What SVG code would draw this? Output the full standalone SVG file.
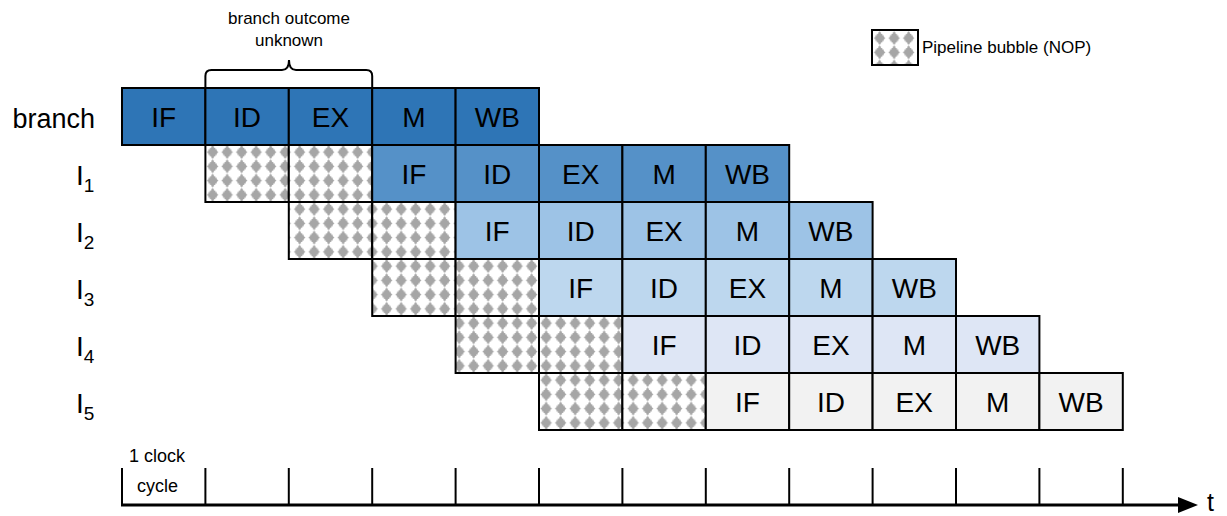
<svg xmlns="http://www.w3.org/2000/svg" width="1227" height="516" viewBox="0 0 1227 516">
<style>
text{font-family:"Liberation Sans",Arial,sans-serif;fill:#000}
.st{font-size:28px;text-anchor:middle}
.lbl{font-size:28px}
.c{stroke:#000;stroke-width:2}
.b0{fill:#2E75B6}.b1{fill:#5591C8}.b2{fill:#9DC3E6}.b3{fill:#BDD7EE}.b4{fill:#DEE6F5}.b5{fill:#F2F2F2}
.nop{fill:url(#bub)}
.tick{stroke:#000;stroke-width:2}
.small{font-size:18px}
</style>
<defs>
<pattern id="bub" patternUnits="userSpaceOnUse" x="205.4" y="145" width="14.5" height="14.25">
<rect width="14.5" height="14.25" fill="#fff"/>
<g transform="translate(7.25,7.1) scale(1.15) translate(-7.25,-7.1)">
<path d="M7.25,1.2 L8.4,2.4 L8.4,3.4 L9.6,3.4 L9.6,4.6 L10.8,4.6 L10.8,5.9 L12.3,7.1 L10.8,8.3 L10.8,9.6 L9.6,9.6 L9.6,10.8 L8.4,10.8 L8.4,11.8 L7.25,13 L6.1,11.8 L6.1,10.8 L4.9,10.8 L4.9,9.6 L3.7,9.6 L3.7,8.3 L2.2,7.1 L3.7,5.9 L3.7,4.6 L4.9,4.6 L4.9,3.4 L6.1,3.4 L6.1,2.4 Z" fill="#A6A6A6"/>
</g>
</pattern>
</defs>
<rect width="1227" height="516" fill="#fff"/>

<g id="brace">
<path d="M205.4,88 V76 Q205.4,70 211.4,70 H282 Q289,70 289,60 Q289,70 296,70 H366.2 Q372.2,70 372.2,76 V88" fill="none" stroke="#000" stroke-width="2"/>
<text x="289" y="24" font-size="17" text-anchor="middle">branch outcome</text>
<text x="289" y="46" font-size="17" text-anchor="middle">unknown</text>
</g>

<g id="legend">
<rect x="872" y="30" width="46" height="35" class="c nop"/>
<text x="922" y="53" font-size="17">Pipeline bubble (NOP)</text>
</g>

<g id="labels">
<text x="95" y="128" font-size="27" text-anchor="end">branch</text>
<text class="lbl" x="76" y="185">I<tspan font-size="19" dy="7">1</tspan></text>
<text class="lbl" x="76" y="242">I<tspan font-size="19" dy="7">2</tspan></text>
<text class="lbl" x="76" y="299">I<tspan font-size="19" dy="7">3</tspan></text>
<text class="lbl" x="76" y="356">I<tspan font-size="19" dy="7">4</tspan></text>
<text class="lbl" x="76" y="413">I<tspan font-size="19" dy="7">5</tspan></text>
</g>

<g id="branch-IF"><rect class="c b0" x="122" y="88" width="83.4" height="57"/><text class="st" x="163.7" y="126.5">IF</text></g>
<g id="branch-ID"><rect class="c b0" x="205.4" y="88" width="83.4" height="57"/><text class="st" x="247.1" y="126.5">ID</text></g>
<g id="branch-EX"><rect class="c b0" x="288.8" y="88" width="83.4" height="57"/><text class="st" x="330.5" y="126.5">EX</text></g>
<g id="branch-M"><rect class="c b0" x="372.2" y="88" width="83.4" height="57"/><text class="st" x="413.9" y="126.5">M</text></g>
<g id="branch-WB"><rect class="c b0" x="455.6" y="88" width="83.4" height="57"/><text class="st" x="497.3" y="126.5">WB</text></g>

<g id="I1-nop1"><rect class="c nop" x="205.4" y="145" width="83.4" height="57"/></g>
<g id="I1-nop2"><rect class="c nop" x="288.8" y="145" width="83.4" height="57"/></g>
<g id="I1-IF"><rect class="c b1" x="372.2" y="145" width="83.4" height="57"/><text class="st" x="413.9" y="183.5">IF</text></g>
<g id="I1-ID"><rect class="c b1" x="455.6" y="145" width="83.4" height="57"/><text class="st" x="497.3" y="183.5">ID</text></g>
<g id="I1-EX"><rect class="c b1" x="539" y="145" width="83.4" height="57"/><text class="st" x="580.7" y="183.5">EX</text></g>
<g id="I1-M"><rect class="c b1" x="622.4" y="145" width="83.4" height="57"/><text class="st" x="664.1" y="183.5">M</text></g>
<g id="I1-WB"><rect class="c b1" x="705.8" y="145" width="83.4" height="57"/><text class="st" x="747.5" y="183.5">WB</text></g>

<g id="I2-nop1"><rect class="c nop" x="288.8" y="202" width="83.4" height="57"/></g>
<g id="I2-nop2"><rect class="c nop" x="372.2" y="202" width="83.4" height="57"/></g>
<g id="I2-IF"><rect class="c b2" x="455.6" y="202" width="83.4" height="57"/><text class="st" x="497.3" y="240.5">IF</text></g>
<g id="I2-ID"><rect class="c b2" x="539" y="202" width="83.4" height="57"/><text class="st" x="580.7" y="240.5">ID</text></g>
<g id="I2-EX"><rect class="c b2" x="622.4" y="202" width="83.4" height="57"/><text class="st" x="664.1" y="240.5">EX</text></g>
<g id="I2-M"><rect class="c b2" x="705.8" y="202" width="83.4" height="57"/><text class="st" x="747.5" y="240.5">M</text></g>
<g id="I2-WB"><rect class="c b2" x="789.2" y="202" width="83.4" height="57"/><text class="st" x="830.9" y="240.5">WB</text></g>

<g id="I3-nop1"><rect class="c nop" x="372.2" y="259" width="83.4" height="57"/></g>
<g id="I3-nop2"><rect class="c nop" x="455.6" y="259" width="83.4" height="57"/></g>
<g id="I3-IF"><rect class="c b3" x="539" y="259" width="83.4" height="57"/><text class="st" x="580.7" y="297.5">IF</text></g>
<g id="I3-ID"><rect class="c b3" x="622.4" y="259" width="83.4" height="57"/><text class="st" x="664.1" y="297.5">ID</text></g>
<g id="I3-EX"><rect class="c b3" x="705.8" y="259" width="83.4" height="57"/><text class="st" x="747.5" y="297.5">EX</text></g>
<g id="I3-M"><rect class="c b3" x="789.2" y="259" width="83.4" height="57"/><text class="st" x="830.9" y="297.5">M</text></g>
<g id="I3-WB"><rect class="c b3" x="872.6" y="259" width="83.4" height="57"/><text class="st" x="914.3" y="297.5">WB</text></g>

<g id="I4-nop1"><rect class="c nop" x="455.6" y="316" width="83.4" height="57"/></g>
<g id="I4-nop2"><rect class="c nop" x="539" y="316" width="83.4" height="57"/></g>
<g id="I4-IF"><rect class="c b4" x="622.4" y="316" width="83.4" height="57"/><text class="st" x="664.1" y="354.5">IF</text></g>
<g id="I4-ID"><rect class="c b4" x="705.8" y="316" width="83.4" height="57"/><text class="st" x="747.5" y="354.5">ID</text></g>
<g id="I4-EX"><rect class="c b4" x="789.2" y="316" width="83.4" height="57"/><text class="st" x="830.9" y="354.5">EX</text></g>
<g id="I4-M"><rect class="c b4" x="872.6" y="316" width="83.4" height="57"/><text class="st" x="914.3" y="354.5">M</text></g>
<g id="I4-WB"><rect class="c b4" x="956" y="316" width="83.4" height="57"/><text class="st" x="997.7" y="354.5">WB</text></g>

<g id="I5-nop1"><rect class="c nop" x="539" y="373" width="83.4" height="57"/></g>
<g id="I5-nop2"><rect class="c nop" x="622.4" y="373" width="83.4" height="57"/></g>
<g id="I5-IF"><rect class="c b5" x="705.8" y="373" width="83.4" height="57"/><text class="st" x="747.5" y="411.5">IF</text></g>
<g id="I5-ID"><rect class="c b5" x="789.2" y="373" width="83.4" height="57"/><text class="st" x="830.9" y="411.5">ID</text></g>
<g id="I5-EX"><rect class="c b5" x="872.6" y="373" width="83.4" height="57"/><text class="st" x="914.3" y="411.5">EX</text></g>
<g id="I5-M"><rect class="c b5" x="956" y="373" width="83.4" height="57"/><text class="st" x="997.7" y="411.5">M</text></g>
<g id="I5-WB"><rect class="c b5" x="1039.4" y="373" width="83.4" height="57"/><text class="st" x="1081.1" y="411.5">WB</text></g>

<g id="connectors">
<line x1="121" y1="505" x2="1180" y2="505" stroke="#000" stroke-width="3"/>
<path d="M1178,497 L1198,505 L1178,513 Z" fill="#000"/>
<g class="tick">
<line x1="122" y1="468" x2="122" y2="505"/>
<line x1="205.4" y1="468" x2="205.4" y2="505"/>
<line x1="288.8" y1="468" x2="288.8" y2="505"/>
<line x1="372.2" y1="468" x2="372.2" y2="505"/>
<line x1="455.6" y1="468" x2="455.6" y2="505"/>
<line x1="539" y1="468" x2="539" y2="505"/>
<line x1="622.4" y1="468" x2="622.4" y2="505"/>
<line x1="705.8" y1="468" x2="705.8" y2="505"/>
<line x1="789.2" y1="468" x2="789.2" y2="505"/>
<line x1="872.6" y1="468" x2="872.6" y2="505"/>
<line x1="956" y1="468" x2="956" y2="505"/>
<line x1="1039.4" y1="468" x2="1039.4" y2="505"/>
<line x1="1122.8" y1="468" x2="1122.8" y2="505"/>
</g>
</g>
<g id="axis-labels">
<text class="small" x="129" y="462">1 clock</text>
<text class="small" x="137" y="492">cycle</text>
<text x="1207" y="511" font-size="25">t</text>
</g>
</svg>
